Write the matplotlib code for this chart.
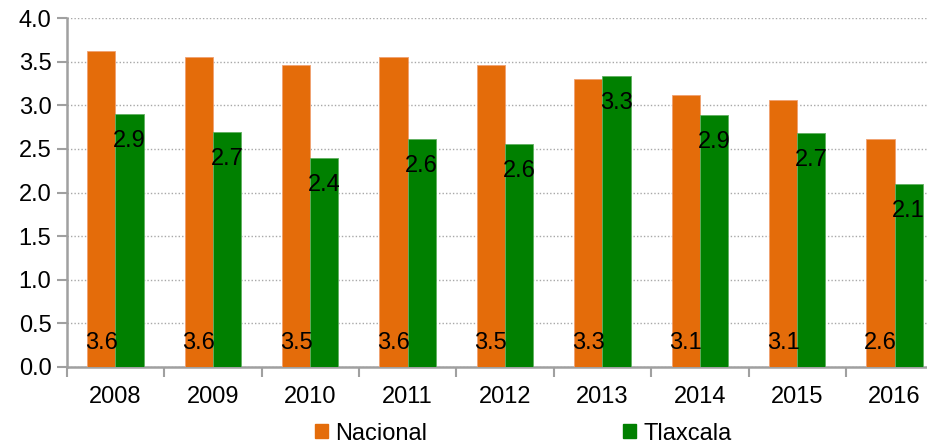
import matplotlib
matplotlib.use("Agg")
import matplotlib.pyplot as plt
from matplotlib.patches import Patch
import numpy as np

plt.rcParams['font.family'] = ['Liberation Sans', 'DejaVu Sans']

years = ['2008', '2009', '2010', '2011', '2012', '2013', '2014', '2015', '2016']
nacional = [3.62, 3.56, 3.46, 3.56, 3.46, 3.30, 3.12, 3.06, 2.61]
tlaxcala = [2.90, 2.69, 2.40, 2.62, 2.56, 3.34, 2.89, 2.68, 2.10]

c_nac = '#E46C0A'
c_tlx = '#008000'
fs = 17

fig = plt.figure(figsize=(9.28, 4.43), dpi=100)
ax = fig.add_axes([0.0719, 0.1722, 0.9446, 0.7865])

x = np.arange(len(years))
w = 0.29
ax.bar(x - w / 2, nacional, w, color=c_nac, edgecolor='#F0A070', linewidth=0.6, zorder=3)
ax.bar(x + w / 2, tlaxcala, w, color=c_tlx, edgecolor='#60B060', linewidth=0.6, zorder=3)

for i in range(len(years)):
    ax.text(x[i] - w / 2, 0.27, f'{nacional[i]:.1f}', ha='center', va='center',
            fontsize=fs, zorder=4)
    ax.text(x[i] + w / 2, tlaxcala[i] - 0.31, f'{tlaxcala[i]:.1f}', ha='center',
            va='center', fontsize=fs, zorder=4)

ax.set_xlim(-0.5, len(years) - 0.5)
ax.set_ylim(0, 4.0)
ax.set_yticks(np.arange(0, 4.01, 0.5))
ax.set_yticklabels([f'{v:.1f}' for v in np.arange(0, 4.01, 0.5)])
ax.set_xticks(x)
ax.set_xticklabels(years)
ax.set_xticks(np.arange(-0.5, len(years), 1.0), minor=True)
ax.tick_params(axis='x', which='major', length=0, labelsize=fs, pad=14)
ax.tick_params(axis='x', which='minor', length=7, width=1.5, color='#A0A0A0')
ax.tick_params(axis='y', length=7, width=1.5, color='#A0A0A0', labelsize=fs, pad=4)

ax.yaxis.grid(True, linestyle=(0, (1, 1.5)), color='#A8A8A8', linewidth=1.0, zorder=0)
ax.set_axisbelow(True)
for s in ['top', 'right']:
    ax.spines[s].set_visible(False)
for s in ['left', 'bottom']:
    ax.spines[s].set_color('#A0A0A0')
    ax.spines[s].set_linewidth(1.8)

handles = [Patch(color=c_nac, label='Nacional'), Patch(color=c_tlx, label='Tlaxcala')]
fig.legend(handles=handles, loc='center', bbox_to_anchor=(0.564, 0.021), ncol=2,
           frameon=False, fontsize=fs, handlelength=0.55, handleheight=0.55,
           handletextpad=0.3, columnspacing=8.3, borderpad=0)

fig.savefig('out.png', dpi=100)
